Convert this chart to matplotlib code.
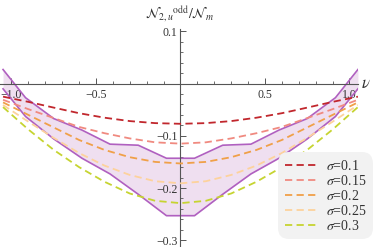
import matplotlib
matplotlib.use("Agg")
import matplotlib.pyplot as plt
from matplotlib.ticker import MultipleLocator, FixedLocator

plt.rcParams['font.family'] = ['Liberation Serif', 'DejaVu Serif']
plt.rcParams['mathtext.fontset'] = 'stix'

# dashed curves
nu = [-1.05, -0.9, -0.75, -0.6, -0.45, -0.3, -0.15, 0.0, 0.15, 0.3, 0.45, 0.6, 0.75, 0.9, 1.05]
sigma_labels = [r'$\sigma$=0.1', r'$\sigma$=0.15', r'$\sigma$=0.2', r'$\sigma$=0.25', r'$\sigma$=0.3']
s010 = [-0.025, -0.035, -0.046, -0.0567, -0.0653, -0.0718, -0.0757, -0.077, -0.0757, -0.0718, -0.0653, -0.0567, -0.046, -0.035, -0.025]
s015 = [-0.031, -0.049, -0.066, -0.083, -0.095, -0.105, -0.1125, -0.115, -0.1125, -0.105, -0.095, -0.083, -0.066, -0.049, -0.031]
s020 = [-0.036, -0.060, -0.084, -0.108, -0.127, -0.141, -0.150, -0.153, -0.150, -0.141, -0.127, -0.108, -0.084, -0.060, -0.036]
s025 = [-0.041, -0.073, -0.104, -0.133, -0.157, -0.175, -0.187, -0.191, -0.187, -0.175, -0.157, -0.133, -0.104, -0.073, -0.041]
s030 = [-0.045, -0.088, -0.127, -0.160, -0.188, -0.2105, -0.2245, -0.229, -0.2245, -0.2105, -0.188, -0.160, -0.127, -0.088, -0.045]
series = [s010, s015, s020, s025, s030]
colors = ['#c1272d', '#f08a80', '#f0a048', '#fdd29c', '#c6d431']

# purple band
band_nu = [-1.05, -0.917, -0.75, -0.583, -0.417, -0.25, -0.083, 0.083, 0.25, 0.417, 0.583, 0.75, 0.917, 1.05]
band_hi = [0.027, -0.027, -0.067, -0.089, -0.116, -0.118, -0.143, -0.143, -0.118, -0.116, -0.089, -0.067, -0.027, 0.027]
band_lo = [-0.010, -0.063, -0.106, -0.143, -0.173, -0.212, -0.253, -0.253, -0.212, -0.173, -0.143, -0.106, -0.063, -0.010]

fig = plt.figure(figsize=(3.74, 2.47), dpi=100)
ax = fig.add_axes([0.0, 0.0, 0.957, 0.8826])
ax.set_xlim(-1.068, 1.05)
ax.set_ylim(-0.313, 0.1046)

ax.fill_between(band_nu, band_lo, band_hi, color='#efdff0', lw=0, zorder=1)
ax.plot(band_nu, band_hi, color='#b060c0', lw=1.2, zorder=2)
ax.plot(band_nu, band_lo, color='#b060c0', lw=1.2, zorder=2)

for y, c, lab in zip(series, colors, sigma_labels):
    ax.plot(nu, y, color=c, lw=1.3, ls=(0, (4, 2.4)), label=lab, zorder=3)

# axes through origin
for s in ['top', 'right']:
    ax.spines[s].set_visible(False)
ax.spines['left'].set_position(('data', 0))
ax.spines['bottom'].set_position(('data', 0))
for s in ['left', 'bottom']:
    ax.spines[s].set_color('#555555')
    ax.spines[s].set_linewidth(0.8)

ax.xaxis.set_major_locator(FixedLocator([-1.0, -0.5, 0.5, 1.0]))
ax.xaxis.set_minor_locator(MultipleLocator(0.1))
ax.yaxis.set_major_locator(FixedLocator([-0.3, -0.2, -0.1, 0.1]))
ax.yaxis.set_minor_locator(MultipleLocator(0.02))
ax.set_xticklabels(['\u22121.0', '\u22120.5', '0.5', '1.0'])
ax.set_yticklabels(['\u22120.3', '\u22120.2', '\u22120.1', '0.1'])
ax.tick_params(which='both', direction='in', color='#555555', labelsize=8.5, labelcolor='#333333')
ax.tick_params(which='major', length=4, width=0.7)
ax.tick_params(axis='x', which='major', pad=4)
ax.tick_params(axis='y', which='major', pad=2)
ax.tick_params(which='minor', length=2.5, width=0.6)

fig.text(0.979, 0.66, r'$\nu$', fontsize=12, color='#333333', ha='center', va='center')
fig.text(0.48, 0.94, r'$\mathcal{N}_{2,u}{}^{\rm odd}/\mathcal{N}_m$', fontsize=10,
         color='#333333', ha='center', va='center')

leg = ax.legend(loc='lower right', bbox_to_anchor=(1.042, 0.035), fontsize=10,
                frameon=True, fancybox=True, facecolor='#f2f2f2', edgecolor='none',
                framealpha=1, handlelength=2.3, handletextpad=0.7, labelspacing=0.08,
                borderpad=0.45, borderaxespad=0)
leg.get_frame().set_boxstyle('round', pad=0.0, rounding_size=0.8)
leg.set_zorder(5)
for t in leg.get_texts():
    t.set_color('#333333')

fig.savefig('out.png', dpi=100)
